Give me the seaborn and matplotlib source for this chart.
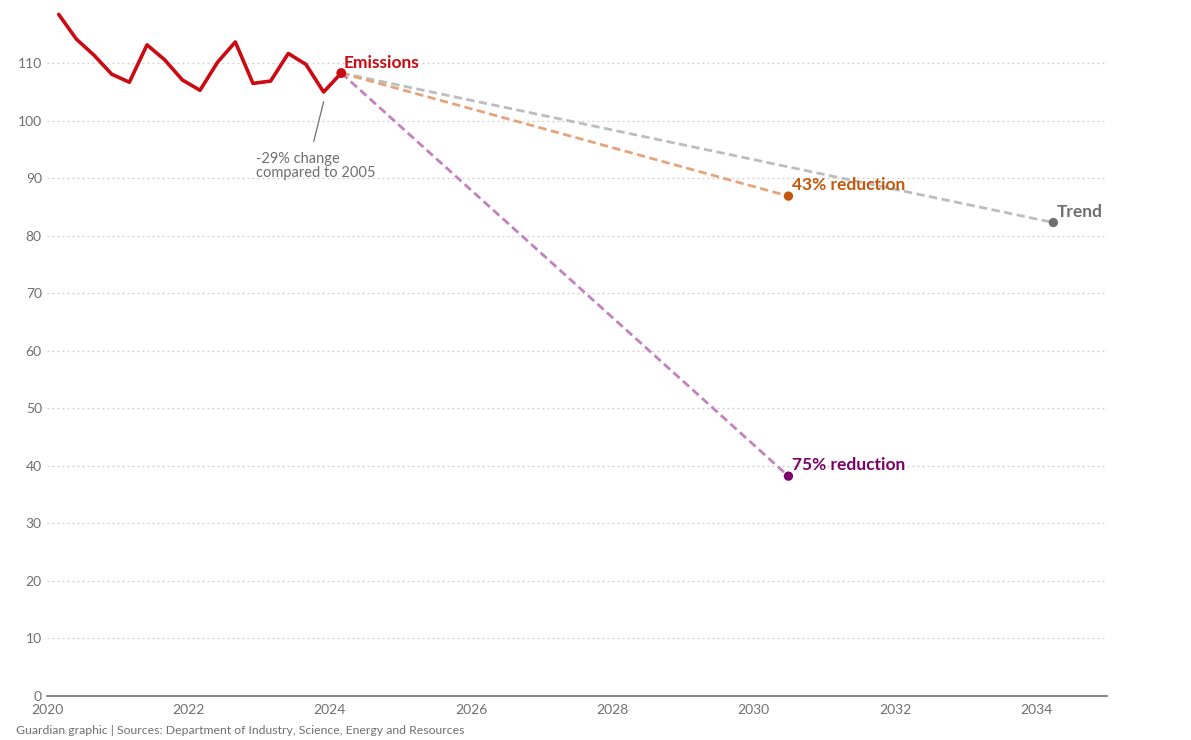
import matplotlib
matplotlib.use("Agg")
import matplotlib.pyplot as plt
import seaborn as sns
import pandas as pd
import numpy as np

# ---- data ----
emission_years = [2020.16, 2020.41, 2020.66, 2020.91, 2021.16, 2021.41, 2021.66, 2021.91,
                  2022.16, 2022.41, 2022.66, 2022.91, 2023.16, 2023.41, 2023.66, 2023.91, 2024.16]
emission_values = [118.5, 114.2, 111.4, 108.1, 106.7, 113.2, 110.6, 107.1,
                   105.3, 110.2, 113.7, 106.5, 106.9, 111.7, 109.8, 105.0, 108.3]

scenario_names = ["Trend", "43% reduction", "75% reduction"]
scenario_end_years = [2034.24, 2030.49, 2030.49]
scenario_end_values = [82.3, 86.9, 38.2]

x_ticks = [2020, 2022, 2024, 2026, 2028, 2030, 2032, 2034]
y_ticks = [0, 10, 20, 30, 40, 50, 60, 70, 80, 90, 100, 110]

footer = "Guardian graphic | Sources: Department of Industry, Science, Energy and Resources"
annotation = "-29% change\ncompared to 2005"

# ---- style ----
sns.set_theme(style="white")
plt.rcParams["font.family"] = ["Lato", "DejaVu Sans"]

RED = "#cc0a11"
line_colors = {"Trend": "#bdbdbd", "43% reduction": "#e5a57a", "75% reduction": "#c382bd"}
dot_colors = {"Trend": "#707070", "43% reduction": "#c4570a", "75% reduction": "#7d0068"}
label_colors = {"Trend": "#6e6e6e", "43% reduction": "#c4570a", "75% reduction": "#7d0068"}
GREY_TXT = "#707070"

fig = plt.figure(figsize=(11.91, 7.40), dpi=100)
ax = fig.add_axes([0.0398, 0.0597, 0.8897, 0.9403])

# grid
for y in y_ticks[1:]:
    ax.axhline(y, color="#cfcfcf", lw=0.9, ls=(0, (1.5, 2.5)), zorder=0)

# projections
start_x, start_y = emission_years[-1], emission_values[-1]
rows = []
for n, ex, ey in zip(scenario_names, scenario_end_years, scenario_end_values):
    rows.append({"scenario": n, "year": start_x, "value": start_y})
    rows.append({"scenario": n, "year": ex, "value": ey})
proj = pd.DataFrame(rows)
for n in scenario_names:
    d = proj[proj["scenario"] == n]
    sns.lineplot(data=d, x="year", y="value", ax=ax, color=line_colors[n], lw=2.0,
                 dashes=False, zorder=2)
    ax.lines[-1].set_dashes((3, 1.6))
    end = d.iloc[[-1]]
    sns.scatterplot(data=end, x="year", y="value", ax=ax, color=dot_colors[n], s=45,
                    edgecolor="none", zorder=4)

# emissions
em = pd.DataFrame({"year": emission_years, "value": emission_values})
sns.lineplot(data=em, x="year", y="value", ax=ax, color=RED, lw=2.6, zorder=5)
sns.scatterplot(data=em.iloc[[-1]], x="year", y="value", ax=ax, color=RED, s=50,
                edgecolor="none", zorder=6)

# labels
ax.text(start_x + 0.03, start_y + 0.4, "Emissions", color=RED, fontsize=12.5,
        fontweight="bold", ha="left", va="bottom")
for n, ex, ey in zip(scenario_names, scenario_end_years, scenario_end_values):
    ax.text(ex + 0.05, ey + 0.5, n, color=label_colors[n], fontsize=12.5,
            fontweight="bold", ha="left", va="bottom")

# annotation
ax.plot([2023.91, 2023.77], [103.3, 96.4], color="#707070", lw=0.9, zorder=3)
ax.text(2022.95, 94.6, annotation, color=GREY_TXT, fontsize=10.5, ha="left", va="top",
        linespacing=1.05)

ax.set_xlim(2020, 2035)
ax.set_ylim(0, 121)
ax.set_xticks(x_ticks)
ax.set_yticks(y_ticks)
ax.set_xlabel("")
ax.set_ylabel("")
for s in ["top", "right", "left"]:
    ax.spines[s].set_visible(False)
ax.spines["bottom"].set_color("#707070")
ax.spines["bottom"].set_linewidth(1.2)
ax.tick_params(axis="x", colors=GREY_TXT, labelcolor=GREY_TXT, length=5, width=1,
               direction="out", pad=1, labelsize=10)
ax.tick_params(axis="y", length=0, pad=4, labelcolor=GREY_TXT, labelsize=10)

fig.text(16 / 1191, 1 - 730 / 740, footer, color=GREY_TXT, fontsize=8.8, ha="left", va="center")

fig.savefig("out.png", dpi=100)
